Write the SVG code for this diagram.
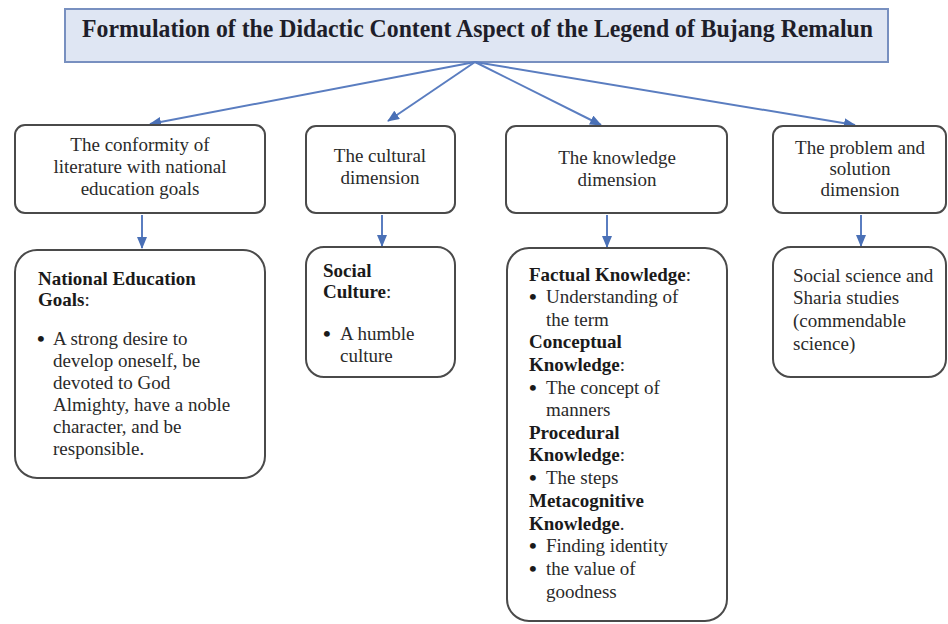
<svg xmlns="http://www.w3.org/2000/svg" width="948" height="624" viewBox="0 0 948 624">
<defs>
<marker id="ah" markerUnits="userSpaceOnUse" markerWidth="12" markerHeight="10" refX="11" refY="5" orient="auto">
<path d="M0,0 L12,5 L0,10 Z" fill="#4a70b6"/>
</marker>
<style>
.box{fill:#ffffff;stroke:#4a4a4a;stroke-width:2}
.tbox{fill:#dfe6f3;stroke:#7890c0;stroke-width:2}
.t{font-family:"Liberation Serif","Times New Roman",serif;font-size:19px;fill:#2a2a2a}
.c{text-anchor:middle}
.b{font-weight:bold;fill:#1a1a1a}
.bu{font-family:"Liberation Serif","Times New Roman",serif;font-size:22px;font-weight:bold;fill:#1a1a1a}
.title{font-family:"Liberation Serif","Times New Roman",serif;font-size:25px;font-weight:bold;fill:#1e1e2a}
.con{stroke:#5a7dc0;stroke-width:2;fill:none;marker-end:url(#ah)}
</style>
</defs>
<rect width="948" height="624" fill="#ffffff"/>
<g id="title">
<rect class="tbox" x="65" y="9" width="823" height="53"/>
<text class="title" x="82" y="37" textLength="791" lengthAdjust="spacingAndGlyphs">Formulation of the Didactic Content Aspect of the Legend of Bujang Remalun</text>
</g>
<g id="connectors">
<line class="con" x1="475" y1="62" x2="150" y2="124"/>
<line class="con" x1="475" y1="62" x2="388" y2="121"/>
<line class="con" x1="475" y1="62" x2="601" y2="125"/>
<line class="con" x1="475" y1="62" x2="855" y2="125"/>
<line class="con" x1="142" y1="215" x2="142" y2="248"/>
<line class="con" x1="382" y1="215" x2="382" y2="246"/>
<line class="con" x1="607" y1="215" x2="607" y2="247"/>
<line class="con" x1="861" y1="215" x2="861" y2="246"/>
</g>
<g id="conformity">
<rect class="box" x="15" y="125" width="250" height="88" rx="10"/>
<text class="t c" x="140" y="151">The conformity of</text>
<text class="t c" x="140" y="173">literature with national</text>
<text class="t c" x="140" y="195">education goals</text>
</g>
<g id="cultural">
<rect class="box" x="306" y="126" width="149" height="87" rx="10"/>
<text class="t c" x="380" y="162">The cultural</text>
<text class="t c" x="380" y="184">dimension</text>
</g>
<g id="knowledge">
<rect class="box" x="506" y="126" width="221" height="87" rx="10"/>
<text class="t c" x="617" y="164">The knowledge</text>
<text class="t c" x="617" y="186">dimension</text>
</g>
<g id="problem">
<rect class="box" x="773" y="126" width="173" height="87" rx="10"/>
<text class="t c" x="860" y="154">The problem and</text>
<text class="t c" x="860" y="175">solution</text>
<text class="t c" x="860" y="196">dimension</text>
</g>
<g id="national-goals">
<rect class="box" x="15" y="250" width="250" height="228" rx="22"/>
<text class="t b" x="38" y="285">National Education</text>
<text class="t" x="38" y="306"><tspan class="b">Goals</tspan>:</text>
<text class="bu" x="37" y="346">•</text>
<text class="t" x="53" y="345">A strong desire to</text>
<text class="t" x="53" y="367">develop oneself, be</text>
<text class="t" x="53" y="389">devoted to God</text>
<text class="t" x="53" y="411">Almighty, have a noble</text>
<text class="t" x="53" y="433">character, and be</text>
<text class="t" x="53" y="455">responsible.</text>
</g>
<g id="social-culture">
<rect class="box" x="306" y="247" width="149" height="130" rx="18"/>
<text class="t b" x="323" y="277">Social</text>
<text class="t" x="323" y="298"><tspan class="b">Culture</tspan>:</text>
<text class="bu" x="323" y="341">•</text>
<text class="t" x="340" y="340">A humble</text>
<text class="t" x="340" y="362">culture</text>
</g>
<g id="knowledge-types">
<rect class="box" x="507" y="248" width="220" height="373" rx="22"/>
<text class="t" x="529" y="281"><tspan class="b">Factual Knowledge</tspan>:</text>
<text class="bu" x="529" y="304">•</text>
<text class="t" x="546" y="303">Understanding of</text>
<text class="t" x="546" y="326">the term</text>
<text class="t b" x="529" y="348">Conceptual</text>
<text class="t" x="529" y="371"><tspan class="b">Knowledge</tspan>:</text>
<text class="bu" x="529" y="395">•</text>
<text class="t" x="546" y="394">The concept of</text>
<text class="t" x="546" y="416">manners</text>
<text class="t b" x="529" y="439">Procedural</text>
<text class="t" x="529" y="461"><tspan class="b">Knowledge</tspan>:</text>
<text class="bu" x="529" y="485">•</text>
<text class="t" x="546" y="484">The steps</text>
<text class="t b" x="529" y="507">Metacognitive</text>
<text class="t" x="529" y="530"><tspan class="b">Knowledge</tspan>.</text>
<text class="bu" x="529" y="553">•</text>
<text class="t" x="546" y="552">Finding identity</text>
<text class="bu" x="529" y="576">•</text>
<text class="t" x="546" y="575">the value of</text>
<text class="t" x="546" y="598">goodness</text>
</g>
<g id="social-science">
<rect class="box" x="773" y="247" width="173" height="130" rx="18"/>
<text class="t" x="793" y="282">Social science and</text>
<text class="t" x="793" y="304">Sharia studies</text>
<text class="t" x="793" y="327">(commendable</text>
<text class="t" x="793" y="350">science)</text>
</g>
</svg>
